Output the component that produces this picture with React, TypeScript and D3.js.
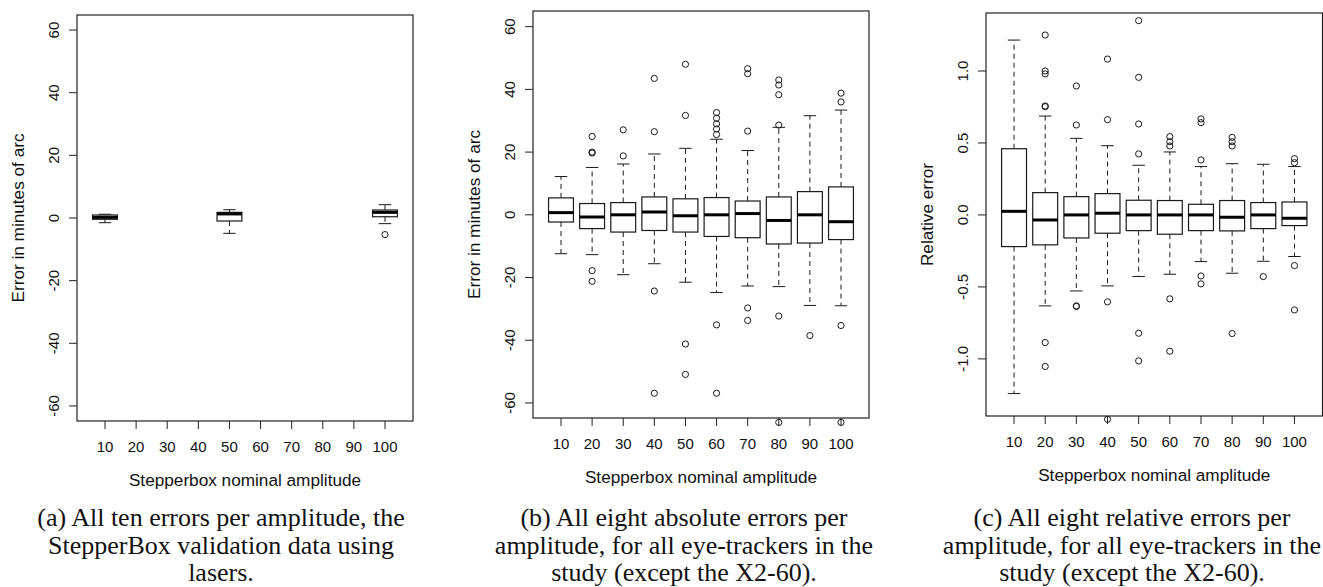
import React from "react";
import * as d3 from "d3";

// ---------- data ----------
const categories = ["10", "20", "30", "40", "50", "60", "70", "80", "90", "100"];

// Panel (a): StepperBox laser validation (only 10, 50, 100 present)
const aWhiskLo = [-1.5, null, null, null, -4.9, null, null, null, null, -1.8];
const aQ1 = [-0.4, null, null, null, -0.96, null, null, null, null, 0.4];
const aMedian = [0.2, null, null, null, 1.3, null, null, null, null, 1.8];
const aQ3 = [0.96, null, null, null, 1.8, null, null, null, null, 2.55];
const aWhiskHi = [1.2, null, null, null, 2.65, null, null, null, null, 4.25];
const aOutliers: number[][] = [[], [], [], [], [], [], [], [], [], [-5.3]];

// Panel (b): absolute errors (minutes of arc)
const bWhiskLo = [-12.4, -12.7, -19.1, -15.6, -21.5, -24.8, -22.7, -22.9, -28.9, -29.0];
const bQ1 = [-2.3, -4.4, -5.5, -5.0, -5.5, -6.9, -7.3, -9.3, -9.0, -7.9];
const bMedian = [0.7, -0.7, 0, 0.9, -0.3, 0, 0.4, -1.8, 0, -2.2];
const bQ3 = [5.4, 3.6, 3.9, 5.7, 5.1, 5.5, 4.4, 5.7, 7.4, 8.9];
const bWhiskHi = [12.2, 15.1, 16.2, 19.4, 21.2, 24.1, 20.5, 27.9, 31.6, 33.4];
const bOutliers: number[][] = [
  [],
  [25, 20, 19.7, -17.8, -21.2],
  [27.1, 18.8],
  [43.5, 26.5, -24.3, -56.9],
  [48, 31.7, -41.2, -50.9],
  [32.6, 30.8, 29.0, 27.4, 25.6, -35.1, -56.9],
  [46.6, 45, 26.7, -29.7, -33.7],
  [43, 41.4, 38.3, 28.6, -32.3, -66.2],
  [-38.5],
  [38.8, 36, -35.3, -66.2],
];

// Panel (c): relative errors
const cWhiskLo = [-1.241, -0.632, -0.528, -0.493, -0.428, -0.412, -0.324, -0.405, -0.322, -0.289];
const cQ1 = [-0.22, -0.208, -0.16, -0.127, -0.109, -0.134, -0.109, -0.111, -0.095, -0.074];
const cMedian = [0.025, -0.035, 0, 0.012, 0, 0, 0, -0.016, 0, -0.023];
const cQ3 = [0.46, 0.155, 0.127, 0.148, 0.102, 0.1, 0.074, 0.1, 0.086, 0.09];
const cWhiskHi = [1.215, 0.687, 0.532, 0.481, 0.345, 0.4375, 0.336, 0.356, 0.352, 0.336];
const cOutliers: number[][] = [
  [],
  [1.25, 1.0, 0.98, 0.757, 0.752, -0.887, -1.053],
  [0.896, 0.625, -0.632, -0.636],
  [1.083, 0.662, -0.604, -1.42],
  [1.35, 0.956, 0.632, 0.424, -0.822, -1.014],
  [0.544, 0.509, 0.479, -0.583, -0.947],
  [0.667, 0.641, 0.382, -0.424, -0.479],
  [0.539, 0.509, 0.479, -0.824],
  [-0.428],
  [0.391, 0.363, -0.352, -0.66],
];

const absTicks = [-60, -40, -20, 0, 20, 40, 60];
const relTicks = [-1.0, -0.5, 0.0, 0.5, 1.0];

const xLabel = "Stepperbox nominal amplitude";
const yLabelAbs = "Error in minutes of arc";
const yLabelRel = "Relative error";

const captionA = ["(a) All ten errors per amplitude, the", "StepperBox validation data using", "lasers."];
const captionB = ["(b) All eight absolute errors per", "amplitude, for all eye-trackers in the", "study (except the X2-60)."];
const captionC = ["(c) All eight relative errors per", "amplitude, for all eye-trackers in the", "study (except the X2-60)."];

// ---------- layout ----------
const SANS = "'Liberation Sans', Arial, Helvetica, sans-serif";
const SERIF = "'Liberation Serif', 'Times New Roman', Times, serif";

type Panel = {
  left: number; right: number; top: number; bottom: number;
  yDomain: [number, number];
  ticks: number[]; tickFmt: (v: number) => string;
  yLabel: string;
  lo: (number | null)[]; q1: (number | null)[]; med: (number | null)[];
  q3: (number | null)[]; hi: (number | null)[]; out: number[][];
  caption: string[]; capX: number;
};

const fmtInt = (v: number) => d3.format("d")(v).replace("−", "-");
const fmt1 = (v: number) => d3.format(".1f")(v).replace("−", "-");

const panels: Panel[] = [
  {
    left: 77, right: 413, top: 15, bottom: 421, yDomain: [-64.8, 64.8],
    ticks: absTicks, tickFmt: fmtInt, yLabel: yLabelAbs,
    lo: aWhiskLo, q1: aQ1, med: aMedian, q3: aQ3, hi: aWhiskHi, out: aOutliers,
    caption: captionA, capX: 221,
  },
  {
    left: 533, right: 869, top: 11, bottom: 418, yDomain: [-64.8, 65.0],
    ticks: absTicks, tickFmt: fmtInt, yLabel: yLabelAbs,
    lo: bWhiskLo, q1: bQ1, med: bMedian, q3: bQ3, hi: bWhiskHi, out: bOutliers,
    caption: captionB, capX: 684,
  },
  {
    left: 986, right: 1322.5, top: 13, bottom: 416, yDomain: [-1.397, 1.403],
    ticks: relTicks, tickFmt: fmt1, yLabel: yLabelRel,
    lo: cWhiskLo, q1: cQ1, med: cMedian, q3: cQ3, hi: cWhiskHi, out: cOutliers,
    caption: captionC, capX: 1132,
  },
];

function PanelView({ p }: { p: Panel }) {
  const x = d3.scaleLinear().domain([0.1, 10.9]).range([p.left, p.right]);
  const y = d3.scaleLinear().domain(p.yDomain).range([p.bottom, p.top]);
  const unit = x(1) - x(0);
  const bw = 0.4 * unit;
  const sw = 0.2 * unit;
  const stroke = "#1a1a1a";
  return (
    <g>
      {/* boxes */}
      {categories.map((c, i) => {
        const cx = x(i + 1);
        const out = p.out[i].map((v, j) => (
          <circle key={"o" + j} cx={cx} cy={y(v)} r={3.1} fill="none" stroke={stroke} strokeWidth={1} />
        ));
        if (p.med[i] == null) return <g key={c}>{out}</g>;
        const lo = p.lo[i] as number, q1 = p.q1[i] as number, md = p.med[i] as number;
        const q3 = p.q3[i] as number, hi = p.hi[i] as number;
        return (
          <g key={c}>
            <line x1={cx} x2={cx} y1={y(q3)} y2={y(hi)} stroke={stroke} strokeDasharray="5,4" />
            <line x1={cx} x2={cx} y1={y(q1)} y2={y(lo)} stroke={stroke} strokeDasharray="5,4" />
            <line x1={cx - sw} x2={cx + sw} y1={y(hi)} y2={y(hi)} stroke={stroke} />
            <line x1={cx - sw} x2={cx + sw} y1={y(lo)} y2={y(lo)} stroke={stroke} />
            <rect x={cx - bw} y={y(q3)} width={2 * bw} height={y(q1) - y(q3)} fill="white" stroke={stroke} strokeWidth={1.2} />
            <line x1={cx - bw} x2={cx + bw} y1={y(md)} y2={y(md)} stroke="#000" strokeWidth={3} />
            {out}
          </g>
        );
      })}
      {/* frame */}
      <rect x={p.left} y={p.top} width={p.right - p.left} height={p.bottom - p.top} fill="none" stroke="#222" strokeWidth={1.2} />
      {/* y axis */}
      {p.ticks.map((t) => (
        <g key={"yt" + t}>
          <line x1={p.left - 8} x2={p.left} y1={y(t)} y2={y(t)} stroke="#222" />
          <text
            transform={`translate(${p.left - 24},${y(t)}) rotate(-90)`}
            textAnchor="middle" dominantBaseline="central"
            fontFamily={SANS} fontSize={15} fill="#111"
          >
            {p.tickFmt(t)}
          </text>
        </g>
      ))}
      <text
        transform={`translate(${p.left - 59},${(p.top + p.bottom) / 2}) rotate(-90)`}
        textAnchor="middle" dominantBaseline="central"
        fontFamily={SANS} fontSize={17.2} fill="#111"
      >
        {p.yLabel}
      </text>
      {/* x axis */}
      {categories.map((c, i) => (
        <g key={"xt" + c}>
          <line x1={x(i + 1)} x2={x(i + 1)} y1={p.bottom} y2={p.bottom + 8} stroke="#222" />
          <text x={x(i + 1)} y={p.bottom + 25} textAnchor="middle" dominantBaseline="central"
            fontFamily={SANS} fontSize={15} fill="#111">
            {c}
          </text>
        </g>
      ))}
      <text x={(p.left + p.right) / 2} y={p.bottom + 59} textAnchor="middle" dominantBaseline="central"
        fontFamily={SANS} fontSize={17.2} fill="#111">
        {xLabel}
      </text>
      {/* caption */}
      {p.caption.map((line, k) => (
        <text key={"cap" + k} x={p.capX} y={526 + k * 27.5} textAnchor="middle"
          fontFamily={SERIF} fontSize={26} fill="#111">
          {line}
        </text>
      ))}
    </g>
  );
}

export default function App() {
  return (
    <svg width={1323} height={587} viewBox="0 0 1323 587"
      style={{ position: "absolute", left: 0, top: 0, background: "white" }}>
      <rect x={0} y={0} width={1323} height={587} fill="white" />
      {panels.map((p, i) => (
        <PanelView key={i} p={p} />
      ))}
    </svg>
  );
}
